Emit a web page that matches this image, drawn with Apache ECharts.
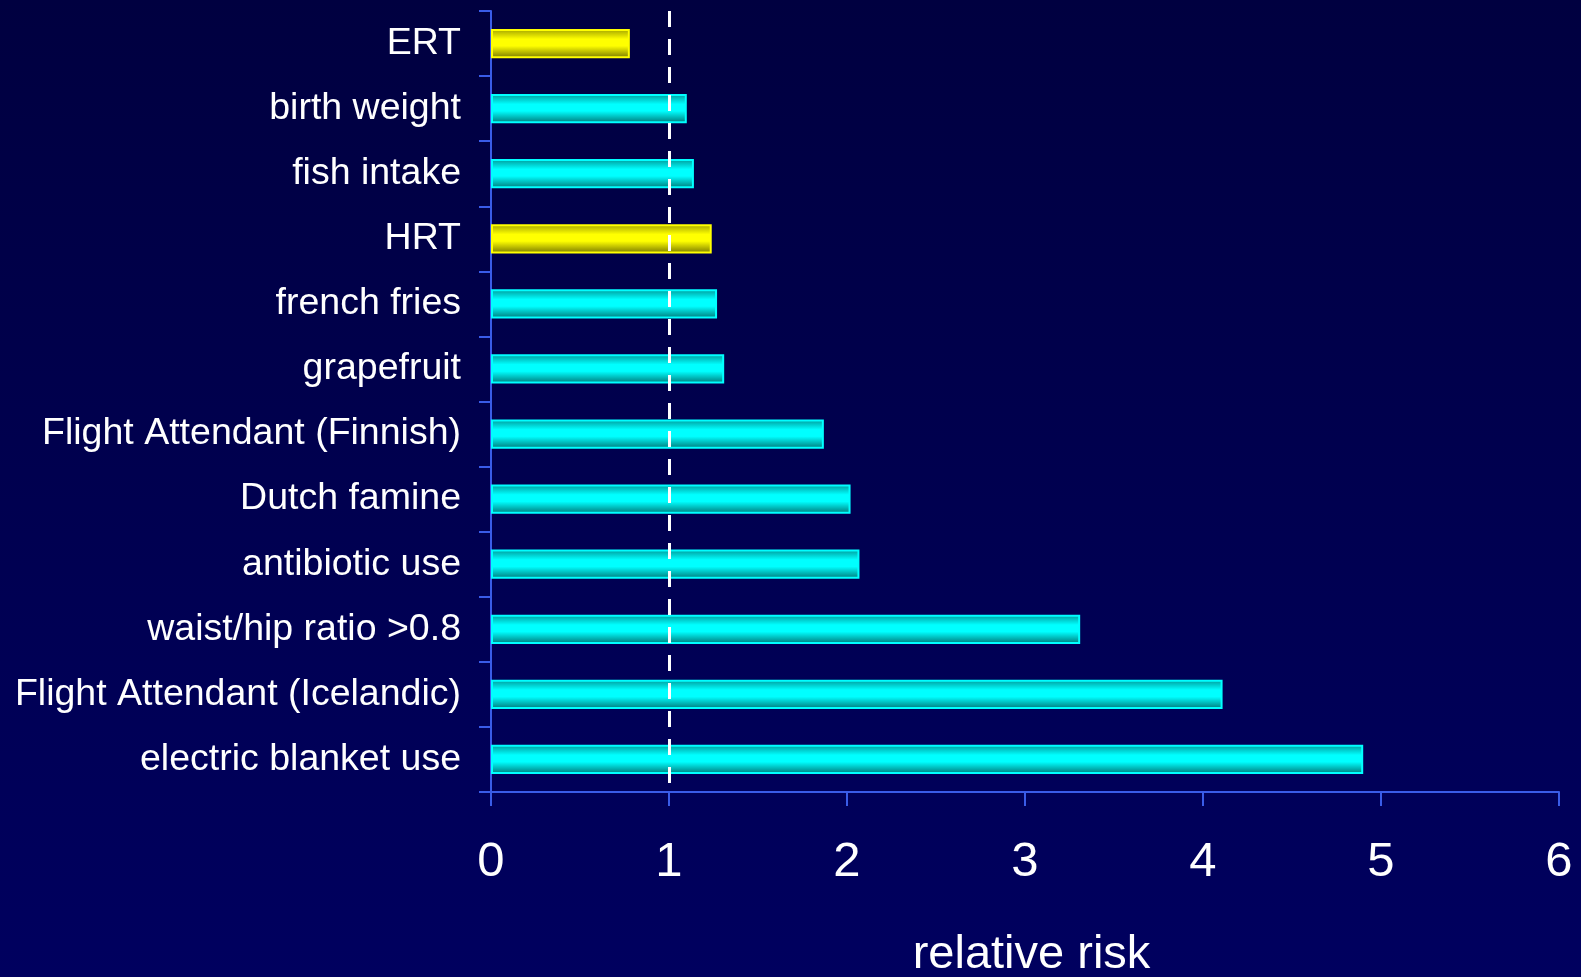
<!DOCTYPE html>
<html>
<head>
<meta charset="utf-8">
<title>Relative risk</title>
<script src="https://cdn.jsdelivr.net/npm/echarts@6/dist/echarts.min.js"></script>
<style>
  html, body { margin: 0; padding: 0; width: 100%; height: 100%; overflow: hidden; }
  #chart { width: 1581px; height: 977px; }
</style>
</head>
<body>
<div id="chart"></div>
<script>
// Risk factors, listed top to bottom
const categories = [
  'ERT', 'birth weight', 'fish intake', 'HRT', 'french fries', 'grapefruit',
  'Flight Attendant (Finnish)', 'Dutch famine', 'antibiotic use',
  'waist/hip ratio >0.8', 'Flight Attendant (Icelandic)', 'electric blanket use'
];
const relativeRisk = [0.78, 1.1, 1.14, 1.24, 1.27, 1.31, 1.87, 2.02, 2.07, 3.31, 4.11, 4.9];
// Hormone therapy entries are drawn in yellow
const hormoneFactors = ['ERT', 'HRT'];
const xTicks = [0, 1, 2, 3, 4, 5, 6];
const referenceRisk = 1;

const fontFamily = '"Liberation Sans", Arial, sans-serif';

function barStyle(isHormone) {
  const c = isHormone
    ? ['#a0a000', '#ffff00', '#ffff00', '#767600']
    : ['#009898', '#00ffff', '#00ffff', '#007676'];
  return {
    color: new echarts.graphic.LinearGradient(0, 0, 0, 1, [
      { offset: 0, color: c[0] },
      { offset: 0.35, color: c[1] },
      { offset: 0.58, color: c[2] },
      { offset: 1, color: c[3] }
    ]),
    borderColor: isHormone ? '#ffff00' : '#00ffff',
    borderWidth: 2
  };
}

const barData = relativeRisk.map((v, i) => ({
  value: v,
  itemStyle: barStyle(hormoneFactors.includes(categories[i]))
}));

const axisBlue = '#3a5ce8';

const chart = echarts.init(document.getElementById('chart'), null, { renderer: 'canvas' });
chart.setOption({
  animation: false,
  backgroundColor: new echarts.graphic.LinearGradient(0, 0, 0, 1, [
    { offset: 0, color: '#000040' },
    { offset: 1, color: '#00005f' }
  ]),
  grid: {
    left: 491, right: 22, top: 11, bottom: 185,
    containLabel: false,
    outerBoundsMode: 'none'
  },
  xAxis: {
    type: 'value',
    min: xTicks[0],
    max: xTicks[xTicks.length - 1],
    interval: 1,
    name: 'relative risk',
    nameLocation: 'middle',
    nameGap: 140,
    nameTextStyle: { color: '#ffffff', fontSize: 47, fontFamily, padding: [0, 0, 0, 13] },
    axisLine: { show: true, lineStyle: { color: axisBlue, width: 2 } },
    axisTick: { show: true, length: 14, lineStyle: { color: axisBlue, width: 2 } },
    axisLabel: {
      color: '#ffffff', fontSize: 49, fontFamily, margin: 46,
      formatter: v => (xTicks.includes(v) ? String(v) : '')
    },
    splitLine: { show: false }
  },
  yAxis: {
    type: 'category',
    data: categories,
    inverse: true,
    axisLine: { show: true, lineStyle: { color: axisBlue, width: 2 } },
    axisTick: { show: true, length: 12, lineStyle: { color: axisBlue, width: 2 } },
    axisLabel: { color: '#ffffff', fontSize: 37.5, fontFamily, margin: 30 }
  },
  series: [{
    type: 'bar',
    data: barData,
    barWidth: '45%',
    markLine: {
      silent: true,
      symbol: ['none', 'none'],
      label: { show: false },
      lineStyle: { color: '#ffffff', width: 3, type: [16, 12] },
      data: [{ xAxis: referenceRisk }]
    }
  }]
});
</script>
</body>
</html>
